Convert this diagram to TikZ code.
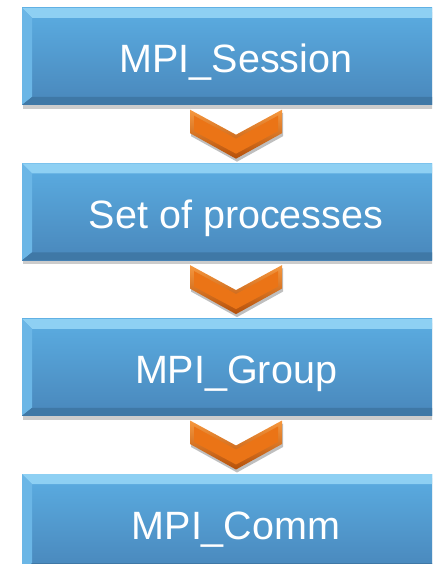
\documentclass[tikz,border=0pt]{standalone}
\usepackage{fontspec}
\setmainfont{Liberation Sans}
\usetikzlibrary{calc,positioning,shadows}

\definecolor{boxtop}{HTML}{5BADE2}
\definecolor{boxbot}{HTML}{4987BB}
\definecolor{bevtop}{HTML}{8ED0F3}
\definecolor{bevleft}{HTML}{6BB6E6}
\definecolor{bevbot}{HTML}{3F78A6}
\definecolor{bevright}{HTML}{4A8CC2}
\definecolor{chevlight}{HTML}{F6983F}
\definecolor{chevdark}{HTML}{B5500A}
\definecolor{chevmid}{HTML}{EB7416}

\tikzset{
  stage/.style={rectangle,minimum width=428pt,minimum height=97pt,inner sep=0pt,
    top color=boxtop,bottom color=boxbot,text=white,
    text height=33pt,text depth=0pt,
    font=\fontsize{39.5}{47}\selectfont,
    drop shadow={shadow xshift=1pt,shadow yshift=-4pt,opacity=0.2,fill=black},
    path picture={
      \path (path picture bounding box.north west) coordinate (bnw)
            (path picture bounding box.north east) coordinate (bne)
            (path picture bounding box.south east) coordinate (bse)
            (path picture bounding box.south west) coordinate (bsw);
      \fill[bevtop] (bnw) -- (bne) -- ($(bne)+(-10pt,-10pt)$) -- ($(bnw)+(10pt,-10pt)$) -- cycle;
      \fill[bevleft] (bnw) -- ($(bnw)+(10pt,-10pt)$) -- ($(bsw)+(10pt,8pt)$) -- (bsw) -- cycle;
      \fill[bevbot] (bsw) -- ($(bsw)+(10pt,8pt)$) -- ($(bse)+(-10pt,8pt)$) -- (bse) -- cycle;
      \fill[bevright] (bne) -- ($(bne)+(-10pt,-10pt)$) -- ($(bse)+(-10pt,8pt)$) -- (bse) -- cycle;
    }},
  chev/.pic={
    % outer rim, then the face
    \path[top color=chevlight,bottom color=chevdark,
      drop shadow={shadow xshift=1pt,shadow yshift=-3pt,opacity=0.25,fill=black}]
      (-46,-24.5) -- (0,0.5) -- (46,-24.5) -- (46,-1) -- (0,24.5) -- (-46,-1) -- cycle;
    \fill[chevmid] (-42,-18.5) -- (0,4.5) -- (42,-18.5) -- (42,-3) -- (0,19.5) -- (-42,-3) -- cycle;
  }
}

\begin{document}
\begin{tikzpicture}[x=1pt,y=-1pt]
  \useasboundingbox (0,0) rectangle (432,564);
  \clip (0,0) rectangle (432,564);
  \node[stage] (session) at (236,56.5) {MPI\_Session};
  \node[stage,below=58pt of session] (procs) {Set of processes};
  \node[stage,below=58pt of procs] (group) {MPI\_Group};
  \node[stage,below=58pt of group] (comm) {MPI\_Comm};
  \path ($(session.south)!0.5!(procs.north)$) pic {chev};
  \path ($(procs.south)!0.5!(group.north)$) pic {chev};
  \path ($(group.south)!0.5!(comm.north)$) pic {chev};
\end{tikzpicture}
\end{document}
